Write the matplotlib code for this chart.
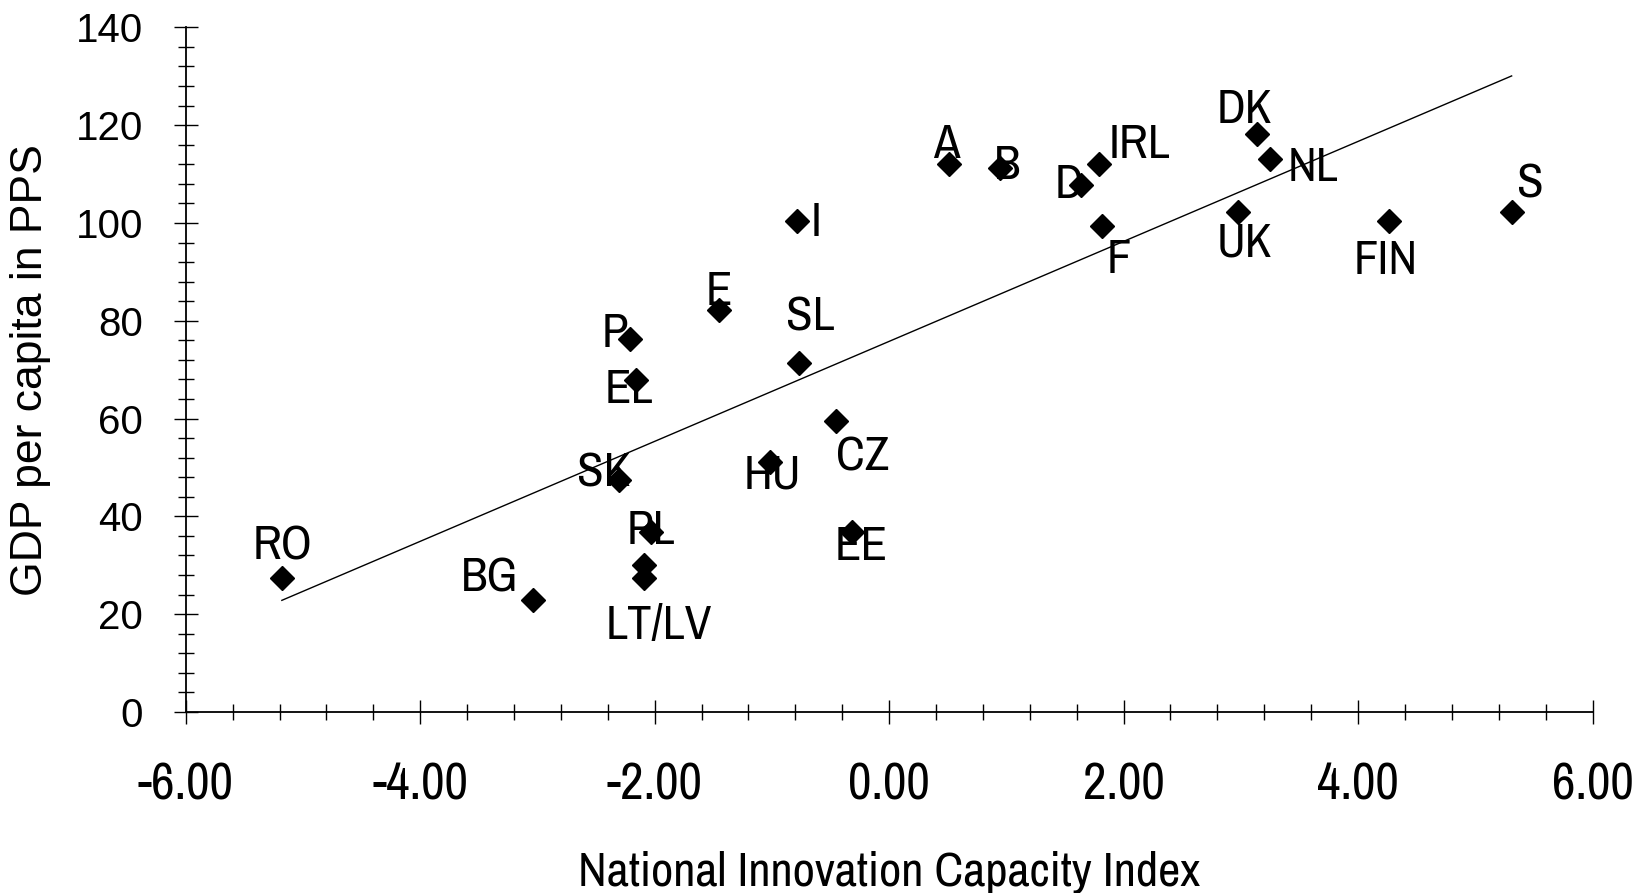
import numpy as np
import matplotlib
matplotlib.use("Agg")
import matplotlib.pyplot as plt
from matplotlib.ticker import MultipleLocator, FormatStrFormatter

# ---- data ----
countries = ["RO", "BG", "SK", "P", "EL", "PL", "LT", "LV", "E", "HU", "I", "SL",
             "CZ", "EE", "A", "B", "D", "IRL", "F", "UK", "DK", "NL", "FIN", "S"]
innovation_index = [-5.18, -3.04, -2.30, -2.21, -2.16, -2.03, -2.09, -2.09, -1.45, -1.02,
                    -0.79, -0.77, -0.45, -0.32, 0.51, 0.95, 1.64, 1.79, 1.82, 2.98,
                    3.14, 3.25, 4.26, 5.31]
gdp_pps = [27.4, 22.9, 47.4, 76.3, 67.8, 36.9, 30.0, 27.4, 82.1, 51.2,
           100.3, 71.4, 59.6, 36.9, 112.1, 111.3, 107.8, 112.1, 99.3, 102.3,
           118.1, 113.0, 100.3, 102.3]
point_labels = ["RO", "BG", "SK", "P", "EL", "PL", "", "LT/LV", "E", "HU", "I", "SL",
                "CZ", "EE", "A", "B", "D", "IRL", "F", "UK", "DK", "NL", "FIN", "S"]
x_ticks = [-6, -4, -2, 0, 2, 4, 6]
y_ticks = [0, 20, 40, 60, 80, 100, 120, 140]

# ---- layout (label offsets in points) ----
label_offsets = {
    "RO": (0.8, 22.7), "BG": (-31, 15.9), "SK": (-11.3, 5.3), "P": (-10.6, 3.8),
    "EL": (-5.3, -6.8), "PL": (0, 0.8), "LT/LV": (10.6, -34), "E": (0, 13.6),
    "HU": (2.3, -9.8), "I": (14.3, -0.8), "SL": (8.3, 33.2), "CZ": (18.9, -26.4),
    "EE": (6.8, -10.6), "A": (-1.5, 13.6), "B": (4.5, 1.5), "D": (-9.1, 0),
    "IRL": (29.4, 13.6), "F": (12.1, -24.2), "UK": (4.5, -22.7), "DK": (-9.1, 18.1),
    "NL": (31, -6), "FIN": (-2.3, -27.9), "S": (13.6, 19.6),
}

narrow = ["Archivo Narrow", "Liberation Sans", "DejaVu Sans"]
regular = ["Liberation Sans", "DejaVu Sans"]

fig = plt.figure(figsize=(16.45, 8.93), dpi=100)
ax = fig.add_axes([0.1129, 0.2027, 0.8552, 0.7667])

x = np.array(innovation_index)
y = np.array(gdp_pps)

# trend line (linear least squares over data range)
slope, intercept = np.polyfit(x, y, 1)
xl = np.array([x.min(), x.max()])
ax.plot(xl, slope * xl + intercept, color="black", lw=1.0, zorder=2)

ax.plot(x, y, linestyle="none", marker="D", markersize=12.5, color="black", zorder=4)

for xi, yi, lab in zip(x, y, point_labels):
    if not lab:
        continue
    dx, dy = label_offsets[lab]
    ax.annotate(lab, (xi, yi), xytext=(dx, dy), textcoords="offset points",
                ha="center", va="center", fontsize=35, family=narrow, zorder=3)

ax.set_xlim(-6, 6)
ax.set_ylim(0, 140)
for s in ["top", "right"]:
    ax.spines[s].set_visible(False)
for s in ["left", "bottom"]:
    ax.spines[s].set_linewidth(1.3)

ax.set_xticks(x_ticks)
ax.set_yticks(y_ticks)
ax.xaxis.set_major_formatter(FormatStrFormatter("%.2f"))
ax.xaxis.set_minor_locator(MultipleLocator(0.4))
ax.yaxis.set_minor_locator(MultipleLocator(4))

ax.tick_params(axis="both", which="major", direction="inout", length=17, width=1.0)
ax.tick_params(axis="both", which="minor", direction="inout", length=12, width=1.0)
ax.tick_params(axis="x", which="major", pad=27)
ax.tick_params(axis="y", which="major", pad=22)

for t in ax.get_xticklabels():
    t.set_family(narrow)
    t.set_fontsize(37)
for t in ax.get_yticklabels():
    t.set_family(regular)
    t.set_fontsize(29)

ax.set_xlabel("National Innovation Capacity Index", fontsize=35, family=narrow)
ax.xaxis.label.set_va("baseline")
ax.xaxis.set_label_coords(0.5, -0.254)
ax.set_ylabel("GDP per capita in PPS", fontsize=32, family=regular, labelpad=18)

fig.savefig("out.png", dpi=100)
